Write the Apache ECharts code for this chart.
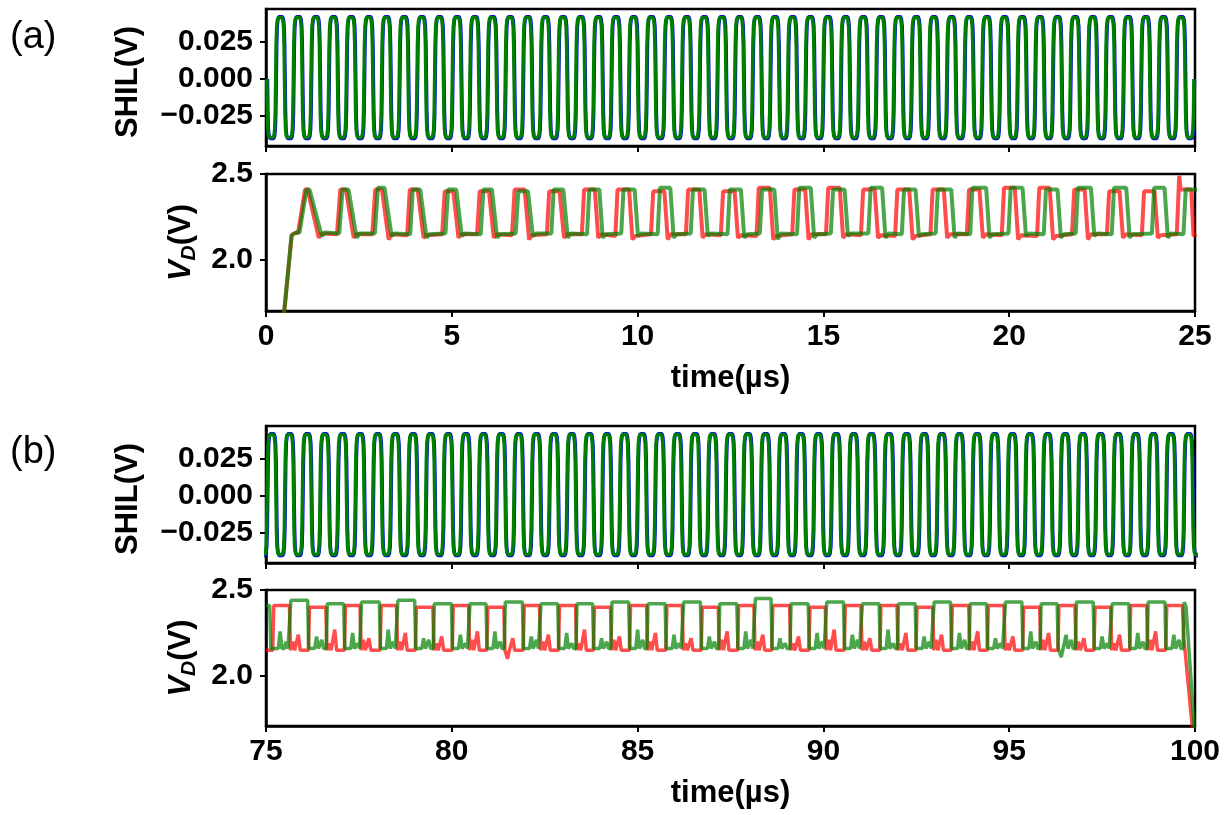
<!DOCTYPE html>
<html>
<head>
<meta charset="utf-8">
<script src="https://cdn.jsdelivr.net/npm/echarts@6/dist/echarts.min.js"></script>
<style>html,body{margin:0;padding:0;background:#fff}#c{width:1230px;height:815px}</style>
</head>
<body>
<div id="c"></div>
<script>
// ---------------- DATA ----------------
// Axis ranges / tick labels
const xRangeA = [0, 25];
const xRangeB = [75, 100];
const xTickStep = 5;
const shilRange = [-0.0451, 0.0473];
const shilTicks = [-0.025, 0, 0.025];
const vdRangeA = [1.705, 2.5];
const vdRangeB = [1.71, 2.5];
const vdTicks = [2.0, 2.5];

// SHIL: times of the waveform maxima (µs)
const shilA_peaks = [0.380,0.855,1.330,1.806,2.281,2.756,3.231,3.706,4.182,4.657,5.132,5.607,6.082,6.558,7.033,7.508,7.983,8.458,8.934,9.409,9.884,10.359,10.834,11.310,11.785,12.260,12.735,13.210,13.686,14.161,14.636,15.111,15.586,16.062,16.537,17.012,17.487,17.962,18.438,18.913,19.388,19.863,20.338,20.814,21.289,21.764,22.239,22.714,23.190,23.665,24.140,24.615];
const shilB_peaks = [75.150,75.624,76.099,76.573,77.048,77.522,77.996,78.471,78.945,79.420,79.894,80.368,80.843,81.317,81.792,82.266,82.740,83.215,83.689,84.164,84.638,85.112,85.587,86.061,86.536,87.010,87.484,87.959,88.433,88.908,89.382,89.856,90.331,90.805,91.280,91.754,92.228,92.703,93.177,93.652,94.126,94.600,95.075,95.549,96.024,96.498,96.972,97.447,97.921,98.396,98.870,99.344,99.819];
// SHIL levels [high, low] and blue trace lag (µs)
const shilBlueLevels = [0.0425, -0.0405];
const shilGreenLevels = [0.0420, -0.0398];
const shilBlueLag = 0.015;
// one half-cycle shape: fraction of half period -> fraction of level
const shilShapeF = [0, 0.05, 0.11, 0.19, 0.30, 0.50, 0.70, 0.81, 0.89, 0.95];
const shilShapeV = [0, 0.55, 0.84, 0.95, 0.99, 1.00, 0.99, 0.95, 0.84, 0.55];

// VD (a): start-up ramp and pulses (rise start, rise end, fall start, fall end)
const vdA_startT = [0.40, 0.69, 0.80];
const vdA_startV = [1.50, 2.145, 2.16];
const vdA_red_rs = [0.86,1.91,2.86,3.80,4.74,5.68,6.62,7.56,8.50,9.40,10.36,11.30,12.24,13.20,14.16,15.07,16.01,16.93,17.88,18.86,19.80,20.75,21.69,22.63,23.57,24.51];
const vdA_red_re = [1.05,2.00,2.94,3.87,4.81,5.75,6.69,7.62,8.56,9.46,10.42,11.36,12.30,13.26,14.22,15.13,16.07,16.99,17.94,18.92,19.86,20.81,21.75,22.69,23.63,24.56];
const vdA_red_fs = [1.12,2.15,3.12,4.08,5.04,6.00,6.96,7.90,8.85,9.77,10.72,11.66,12.61,13.56,14.51,15.44,16.38,17.31,18.24,19.20,20.15,21.09,22.03,22.97,23.91,24.90];
const vdA_red_fe = [1.42,2.36,3.30,4.24,5.18,6.13,7.08,8.02,8.94,9.86,10.81,11.75,12.70,13.65,14.60,15.53,16.47,17.40,18.33,19.29,20.24,21.18,22.12,23.06,24.00,24.96];
const vdA_red_hi = [2.41,2.41,2.41,2.41,2.40,2.40,2.41,2.40,2.41,2.41,2.40,2.41,2.40,2.42,2.41,2.42,2.41,2.41,2.41,2.41,2.42,2.42,2.41,2.40,2.40,2.41];
const vdA_red_low = [2.155,2.15,2.15,2.145,2.15,2.15,2.145,2.15,2.15,2.14,2.15,2.15,2.145,2.14,2.15,2.15,2.145,2.14,2.15,2.15,2.145,2.14,2.15,2.15,2.145,2.15];
const vdA_red_dip = [2.13,2.13,2.12,2.13,2.13,2.13,2.12,2.13,2.13,2.12,2.12,2.13,2.13,2.12,2.12,2.13,2.13,2.12,2.13,2.13,2.12,2.12,2.12,2.13,2.13,2.14];
const vdA_red_extra = [[24.575, 2.49], [24.61, 2.41]];
const vdA_green_rs = [0.90,1.97,2.93,3.88,4.83,5.78,6.72,7.68,8.64,9.56,10.54,11.43,12.42,13.29,14.29,15.20,16.21,17.11,18.02,18.95,19.98,20.93,21.79,22.76,23.84,24.69];
const vdA_green_re = [1.09,2.06,3.01,3.95,4.90,5.85,6.79,7.74,8.70,9.62,10.60,11.49,12.48,13.35,14.35,15.26,16.27,17.17,18.08,19.01,20.04,20.99,21.85,22.82,23.90,24.75];
const vdA_green_fs = [1.17,2.22,3.19,4.15,5.12,6.08,7.05,8.00,8.97,9.92,10.88,11.80,12.78,13.68,14.66,15.57,16.58,17.48,18.44,19.38,20.36,21.30,22.20,23.15,24.18,25.10];
const vdA_green_fe = [1.50,2.44,3.38,4.32,5.27,6.22,7.18,8.12,9.06,10.01,10.97,11.89,12.87,13.77,14.75,15.66,16.67,17.57,18.53,19.47,20.45,21.39,22.29,23.24,24.27,25.20];
const vdA_green_hi = [2.41,2.41,2.42,2.41,2.41,2.41,2.40,2.41,2.41,2.41,2.42,2.41,2.41,2.41,2.42,2.41,2.42,2.41,2.41,2.42,2.42,2.41,2.42,2.42,2.42,2.41];
const vdA_green_low = [2.16,2.155,2.155,2.15,2.155,2.15,2.155,2.155,2.15,2.155,2.15,2.155,2.15,2.155,2.15,2.155,2.155,2.15,2.155,2.15,2.155,2.15,2.155,2.15,2.155,2.15];
const vdA_green_dip = [2.14,2.13,2.14,2.13,2.14,2.13,2.14,2.13,2.13,2.14,2.13,2.14,2.13,2.12,2.13,2.14,2.13,2.14,2.13,2.13,2.14,2.13,2.14,2.13,2.13,2.14];
const vdA_green_extra = [];

// VD (b): two-level switching (rise / fall times), levels, spikes and bumps in the low state
const vdB_red_rise = [75.18,76.14,77.11,78.07,79.02,80.01,80.94,81.92,82.87,83.81,84.78,85.76,86.71,87.69,88.61,89.61,90.56,91.52,92.49,93.44,94.41,95.36,96.31,97.28,98.24,99.21];
const vdB_red_fall = [75.63,76.61,77.53,78.51,79.49,80.45,81.40,82.36,83.33,84.27,85.24,86.20,87.17,88.13,89.09,90.05,91.01,91.98,92.94,93.91,94.86,95.82,96.77,97.73,98.70];
const vdB_red_high = [2.41,2.40,2.41,2.41,2.40,2.41,2.40,2.41,2.41,2.40,2.41,2.41,2.40,2.41,2.41,2.40,2.41,2.41,2.40,2.41,2.41,2.40,2.41,2.40,2.41,2.41];
const vdB_red_base = 2.150;
const vdB_red_spikeT = [75.87,76.85,77.77,78.75,79.73,80.69,81.50,81.64,82.60,83.57,84.51,85.48,86.44,87.41,88.37,89.33,90.29,91.25,92.22,93.18,94.15,95.10,96.06,97.01,97.97,98.94];
const vdB_red_spikeV = [2.24,2.27,2.22,2.25,2.23,2.26,2.10,2.22,2.24,2.27,2.23,2.25,2.22,2.26,2.24,2.23,2.27,2.22,2.25,2.24,2.26,2.23,2.25,2.22,2.24,2.26];
const vdB_red_bumpT = [75.72,76.70,77.62,78.60,79.58,80.54,82.45,83.42,84.36,85.33,86.29,87.26,88.22,89.18,90.14,91.10,92.07,93.03,94.00,94.95,95.91,96.86,97.82,98.79];
const vdB_red_bumpV = [2.20,2.19,2.21,2.20,2.19,2.21,2.20,2.19,2.21,2.20,2.19,2.21,2.20,2.19,2.21,2.20,2.19,2.21,2.20,2.19,2.21,2.20,2.19,2.21];
const vdB_red_start = [[75.00, 2.15]];
const vdB_red_end = [[99.66, 2.41], [99.70, 2.22], [99.95, 1.65]];
const vdB_green_rise = [75.64,76.62,77.54,78.52,79.50,80.46,81.41,82.37,83.34,84.28,85.25,86.21,87.18,88.14,89.10,90.06,91.02,91.99,92.95,93.92,94.87,95.83,96.78,97.74,98.71,99.68];
const vdB_green_fall = [76.12,77.09,78.05,79.00,79.99,80.92,81.90,82.85,83.79,84.76,85.74,86.69,87.67,88.59,89.59,90.54,91.50,92.47,93.42,94.39,95.34,96.29,97.26,98.22,99.19];
const vdB_green_high = [2.44,2.42,2.43,2.44,2.42,2.42,2.43,2.42,2.42,2.43,2.42,2.43,2.42,2.45,2.42,2.43,2.42,2.42,2.43,2.42,2.43,2.42,2.43,2.42,2.43,2.43];
const vdB_green_base = 2.160;
const vdB_green_spikeT = [75.38,76.36,77.33,78.29,79.24,80.23,81.16,82.14,83.09,84.03,85.00,85.98,86.93,87.91,88.83,89.83,90.78,91.74,92.71,93.66,94.63,95.58,96.40,96.53,97.50,98.46,99.43];
const vdB_green_spikeV = [2.26,2.23,2.25,2.27,2.22,2.24,2.26,2.23,2.25,2.22,2.27,2.24,2.23,2.26,2.22,2.25,2.24,2.27,2.23,2.25,2.22,2.26,2.11,2.24,2.23,2.25,2.24];
const vdB_green_bumpT = [75.54,76.50,77.47,78.43,79.38,80.37,81.30,82.28,83.23,84.17,85.14,86.12,87.07,88.05,88.97,89.97,90.92,91.88,92.85,93.80,94.77,95.72,96.67,97.64,98.60,99.57];
const vdB_green_bumpV = [2.20,2.21,2.19,2.20,2.21,2.19,2.20,2.21,2.19,2.20,2.21,2.19,2.20,2.21,2.19,2.20,2.21,2.19,2.20,2.21,2.19,2.20,2.21,2.19,2.20,2.21];
const vdB_green_start = [[75.00, 2.41], [75.10, 2.41], [75.13, 2.16]];
const vdB_green_end = [[99.76, 2.40], [99.98, 1.70], [100.0, 1.62]];

// ---------------- BUILDERS ----------------
function addHalf(pts, t0, h, level) {
  for (let j = 0; j < shilShapeF.length; j++) pts.push([t0 + shilShapeF[j] * h, shilShapeV[j] * level]);
}
function buildShil(peaks, levels, lag) {
  const pts = [];
  const n = peaks.length;
  let lastEnd = 0;
  for (let i = 0; i < n; i++) {
    const p = peaks[i] + lag;
    const h = (i < n - 1 ? peaks[i + 1] - peaks[i] : peaks[i] - peaks[i - 1]) / 2;
    if (i === 0) addHalf(pts, p - 1.5 * h, h, levels[1]);
    addHalf(pts, p - 0.5 * h, h, levels[0]);
    addHalf(pts, p + 0.5 * h, h, levels[1]);
    lastEnd = p + 1.5 * h;
  }
  pts.push([lastEnd, 0]);
  return pts;
}
const REC = 0.08; // recovery time after the post-pulse dip
function buildPulses(startT, startV, rs, re, fs, fe, hi, low, dip, extra) {
  const pts = startT.map((t, i) => [t, startV[i]]);
  for (let i = 0; i < rs.length; i++) {
    pts.push([rs[i], low[i]], [re[i], hi[i]], [fs[i], hi[i]], [fe[i], dip[i]], [fe[i] + REC, low[i]]);
  }
  extra.forEach(p => pts.push(p));
  pts.sort((a, b) => a[0] - b[0]);
  return pts;
}
const EDGE = 0.03, SPK = 0.05;
function buildSquare(rise, fall, high, base, spT, spV, bT, bV, start, end) {
  const pts = start.slice();
  for (let i = 0; i < rise.length; i++) {
    pts.push([rise[i], base], [rise[i] + EDGE, high[i]]);
    if (i < fall.length) pts.push([fall[i], high[i]], [fall[i] + EDGE, base]);
  }
  for (let i = 0; i < spT.length; i++) pts.push([spT[i] - SPK, base], [spT[i], spV[i]], [spT[i] + SPK, base]);
  for (let i = 0; i < bT.length; i++) pts.push([bT[i] - SPK, base], [bT[i], bV[i]], [bT[i] + SPK, base]);
  end.forEach(p => pts.push(p));
  pts.sort((a, b) => a[0] - b[0]);
  return pts;
}

// ---------------- CHART ----------------
const FONT = 'Liberation Sans';
const chart = echarts.init(document.getElementById('c'), null, {renderer: 'canvas'});
const gridBase = {show: true, borderColor: '#000', borderWidth: 2.5, backgroundColor: 'transparent', outerBoundsMode: 'none'};
const tickStyle = {show: true, inside: false, length: 6, lineStyle: {color: '#000', width: 2}};
const labelStyle = {color: '#000', fontFamily: FONT, fontWeight: 'bold', fontSize: 30};
const nameStyle = {color: '#000', fontFamily: FONT, fontWeight: 'bold', fontSize: 31};

function xAxis(gi, range, withLabels) {
  return {
    type: 'value', gridIndex: gi, min: range[0], max: range[1], interval: xTickStep,
    axisLine: {show: true, onZero: false, lineStyle: {color: '#000', width: 2.5}},
    axisTick: tickStyle, splitLine: {show: false},
    axisLabel: Object.assign({show: withLabels, margin: 11}, labelStyle),
    name: withLabels ? 'time(µs)' : '', nameLocation: 'middle', nameGap: 52, nameTextStyle: nameStyle
  };
}
const fmtShil = v => (v < 0 ? '\u2212' : '') + Math.abs(v).toFixed(3);
function yShil(gi) {
  return {
    type: 'value', gridIndex: gi, min: shilRange[0], max: shilRange[1],
    axisLine: {show: true, onZero: false, lineStyle: {color: '#000', width: 2.5}},
    axisTick: Object.assign({customValues: shilTicks}, tickStyle), splitLine: {show: false},
    axisLabel: Object.assign({customValues: shilTicks, margin: 13, formatter: fmtShil}, labelStyle),
    name: 'SHIL(V)', nameLocation: 'middle', nameGap: 122,
    nameTextStyle: Object.assign({padding: [0, 9, 0, 0]}, nameStyle)
  };
}
function yVd(gi, range) {
  return {
    type: 'value', gridIndex: gi, min: range[0], max: range[1],
    axisLine: {show: true, onZero: false, lineStyle: {color: '#000', width: 2.5}},
    axisTick: Object.assign({customValues: vdTicks}, tickStyle), splitLine: {show: false},
    axisLabel: Object.assign({customValues: vdTicks, margin: 13, formatter: v => v.toFixed(1)}, labelStyle),
    name: '{v|V}{d|D}{p|(V)}', nameLocation: 'middle', nameGap: 66,
    nameTextStyle: {
      color: '#000',
      rich: {
        v: {fontFamily: FONT, fontWeight: 'bold', fontStyle: 'italic', fontSize: 31, lineHeight: 38, color: '#000'},
        d: {fontFamily: FONT, fontWeight: 'bold', fontStyle: 'italic', fontSize: 21, lineHeight: 21, verticalAlign: 'bottom', color: '#000'},
        p: {fontFamily: FONT, fontWeight: 'bold', fontSize: 31, lineHeight: 38, color: '#000'}
      }
    }
  };
}
function line(name, xi, data, color, width, opacity, z) {
  return {
    name, type: 'line', xAxisIndex: xi, yAxisIndex: xi, data, showSymbol: false, symbol: 'none',
    lineStyle: {color, width, opacity}, clip: true, z, animation: false, silent: true
  };
}

const option = {
  animation: false,
  backgroundColor: '#fff',
  grid: [
    Object.assign({left: 266, top: 9, width: 929, height: 137}, gridBase),
    Object.assign({left: 266, top: 174, width: 929, height: 137}, gridBase),
    Object.assign({left: 266, top: 426, width: 929, height: 137}, gridBase),
    Object.assign({left: 266, top: 590, width: 929, height: 136}, gridBase)
  ],
  xAxis: [xAxis(0, xRangeA, false), xAxis(1, xRangeA, true), xAxis(2, xRangeB, false), xAxis(3, xRangeB, true)],
  yAxis: [yShil(0), yVd(1, vdRangeA), yShil(2), yVd(3, vdRangeB)],
  graphic: [
    {type: 'text', left: 10, top: 19, style: {text: '(a)', font: 'normal 38px "Liberation Sans"', fill: '#000'}},
    {type: 'text', left: 10, top: 434, style: {text: '(b)', font: 'normal 38px "Liberation Sans"', fill: '#000'}}
  ],
  series: [
    line('SHIL a blue', 0, buildShil(shilA_peaks, shilBlueLevels, shilBlueLag), '#0000ff', 3.5, 1, 2),
    line('SHIL a green', 0, buildShil(shilA_peaks, shilGreenLevels, 0), '#008000', 3.5, 1, 3),
    line('VD a red', 1, buildPulses(vdA_startT, vdA_startV, vdA_red_rs, vdA_red_re, vdA_red_fs, vdA_red_fe, vdA_red_hi, vdA_red_low, vdA_red_dip, vdA_red_extra), '#ff0000', 4, 0.7, 2),
    line('VD a green', 1, buildPulses(vdA_startT, vdA_startV, vdA_green_rs, vdA_green_re, vdA_green_fs, vdA_green_fe, vdA_green_hi, vdA_green_low, vdA_green_dip, vdA_green_extra), '#008000', 4, 0.7, 3),
    line('SHIL b blue', 2, buildShil(shilB_peaks, shilBlueLevels, shilBlueLag), '#0000ff', 3.5, 1, 2),
    line('SHIL b green', 2, buildShil(shilB_peaks, shilGreenLevels, 0), '#008000', 3.5, 1, 3),
    line('VD b red', 3, buildSquare(vdB_red_rise, vdB_red_fall, vdB_red_high, vdB_red_base, vdB_red_spikeT, vdB_red_spikeV, vdB_red_bumpT, vdB_red_bumpV, vdB_red_start, vdB_red_end), '#ff0000', 3.5, 0.7, 2),
    line('VD b green', 3, buildSquare(vdB_green_rise, vdB_green_fall, vdB_green_high, vdB_green_base, vdB_green_spikeT, vdB_green_spikeV, vdB_green_bumpT, vdB_green_bumpV, vdB_green_start, vdB_green_end), '#008000', 3.5, 0.7, 3)
  ]
};
chart.setOption(option);
</script>
</body>
</html>
